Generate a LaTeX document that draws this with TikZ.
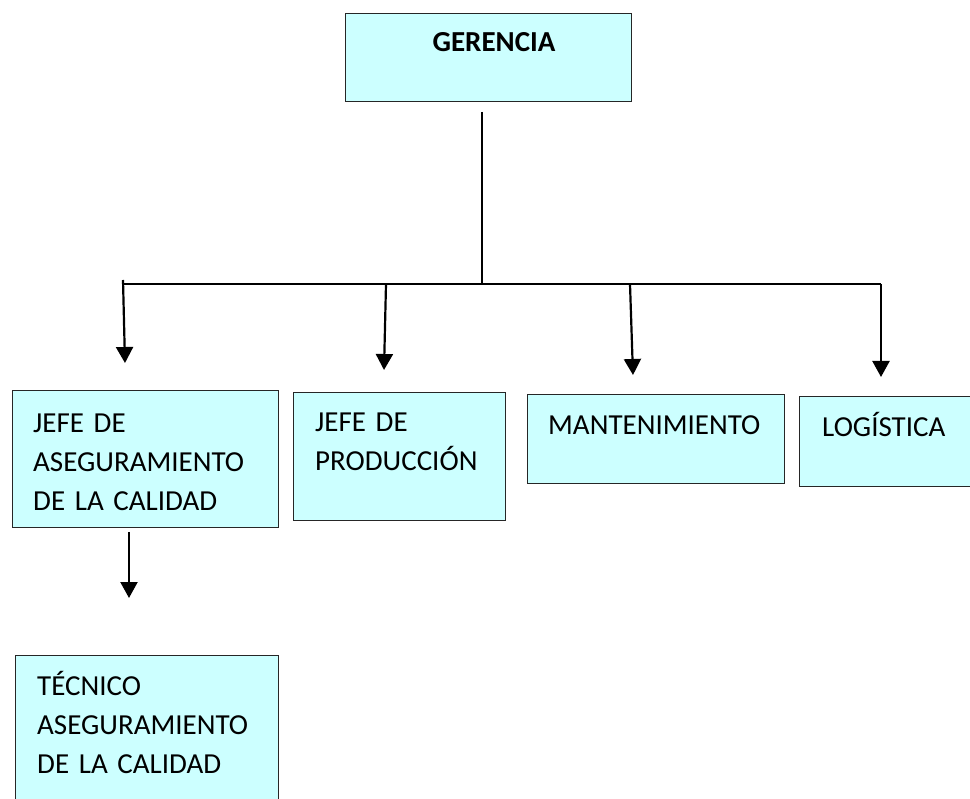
\documentclass[tikz,border=0pt]{standalone}
\usepackage{fontspec}
\setmainfont{Carlito}
\usetikzlibrary{arrows.meta}
\definecolor{boxfill}{HTML}{CCFFFF}
\begin{document}
\begin{tikzpicture}[x=1pt,y=-1pt,
  box/.style={draw=black!85, line width=1.4pt, fill=boxfill, inner sep=0pt, anchor=north west},
  lbl/.style={anchor=base west, inner sep=0pt, text width=260pt, align=left, font=\fontsize{29}{39}\selectfont},
  conn/.style={line width=2.2pt},
  arr/.style={line width=2.2pt, -{Triangle[width=17pt,length=16pt]}}]
\useasboundingbox (0,0) rectangle (970,799);
\clip (0,0) rectangle (970,799);
% boxes
\node[box, minimum width=286pt, minimum height=88pt] (ger) at (345,13) {};
\node[box, minimum width=266pt, minimum height=137pt] (qa) at (12,390) {};
\node[box, minimum width=212pt, minimum height=128pt] (prod) at (293,392) {};
\node[box, minimum width=257pt, minimum height=89pt] (mant) at (527,394) {};
\node[box, minimum width=200pt, minimum height=90pt] (log) at (799,396) {};
\node[box, minimum width=263pt, minimum height=200pt] (tec) at (15,655) {};
% texts
\node[inner sep=0pt, anchor=base, font=\fontsize{29}{39}\selectfont\bfseries] (gert) at (494,52) {GERENCIA};
\node[lbl] (qat) at (33,433) {JEFE DE\\ASEGURAMIENTO\\DE LA CALIDAD};
\node[lbl] (prodt) at (315,432) {JEFE DE\\PRODUCCIÓN};
\node[lbl] (mantt) at (548,435) {MANTENIMIENTO};
\node[lbl] (logt) at (822,437) {LOGÍSTICA};
\node[lbl] (tect) at (37,695) {TÉCNICO\\ASEGURAMIENTO\\DE LA CALIDAD};
% connectors
\coordinate (gtop) at (482,112);
\coordinate (gbar) at (482,284);
\coordinate (barL) at (123,284);
\coordinate (barR) at (881,284);
\draw[conn] (gtop) -- (gbar);
\draw[conn] (barL) -- (barR);
\coordinate (s1) at (123,280); \coordinate (e1) at (125,363);
\coordinate (s2) at (386,284); \coordinate (e2) at (384,370);
\coordinate (s3) at (630,284); \coordinate (e3) at (633,375);
\coordinate (s4) at (881,284); \coordinate (e4) at (881,377);
\coordinate (s5) at (129,532); \coordinate (e5) at (129,598);
\draw[arr] (s1) -- (e1);
\draw[arr] (s2) -- (e2);
\draw[arr] (s3) -- (e3);
\draw[arr] (s4) -- (e4);
\draw[arr] (s5) -- (e5);
\end{tikzpicture}
\end{document}
